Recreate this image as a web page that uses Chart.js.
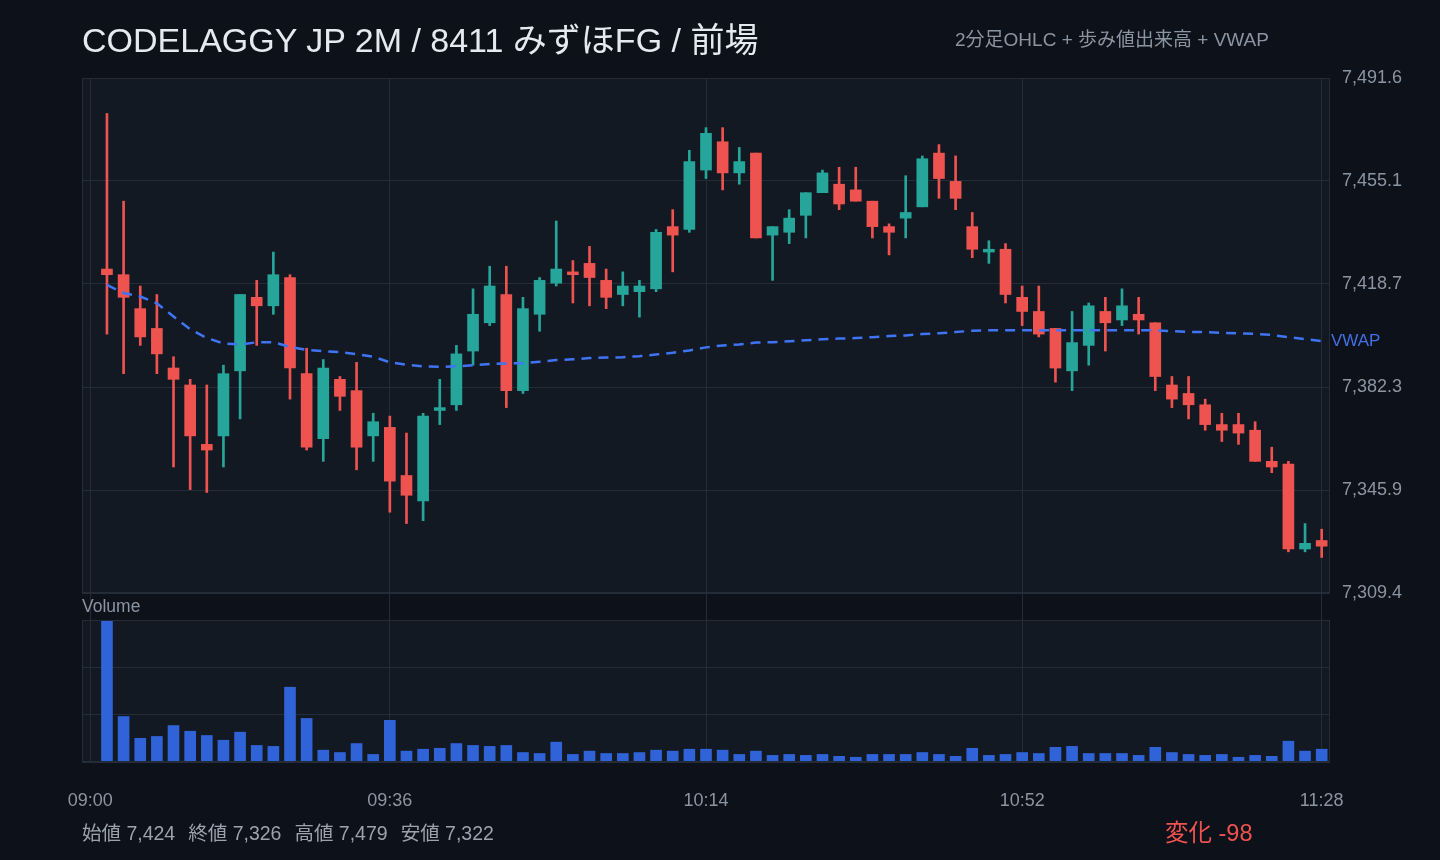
<!DOCTYPE html>
<html>
<head>
<meta charset="utf-8">
<script src="https://cdn.jsdelivr.net/npm/chart.js@4.4.1/dist/chart.umd.min.js"></script>
<style>
  html, body { margin:0; padding:0; width:1440px; height:860px; overflow:hidden; background:#0d1119;
    font-family:"Liberation Sans",Arial,"Noto Sans CJK JP",sans-serif; }
  .abs { position:absolute; white-space:nowrap; }
  #title { left:82px; top:17px; font-size:34px; line-height:46px; color:#e6eaf0; font-weight:400; }
  #sub { left:955px; top:27px; font-size:19px; line-height:26px; color:#8b95a2; }
  #volLabel { left:82px; top:595px; font-size:17.5px; line-height:22px; color:#8b95a2; z-index:2; }
  #footer { left:82px; top:819px; font-size:19.5px; line-height:28px; color:#9aa3ae; }
  #footer span { margin-right:13px; }
  #change { left:1165px; top:817px; font-size:23.5px; line-height:32px; color:#ef5350; }
  #priceCanvas { position:absolute; left:0; top:0; }
  #volCanvas { position:absolute; left:0; top:620px; }
</style>
</head>
<body>
<canvas id="priceCanvas" width="1440" height="620"></canvas>
<canvas id="volCanvas" width="1440" height="240"></canvas>
<div id="title" class="abs">CODELAGGY JP 2M / 8411 みずほFG / 前場</div>
<div id="sub" class="abs">2分足OHLC + 歩み値出来高 + VWAP</div>
<div id="volLabel" class="abs">Volume</div>
<div id="footer" class="abs"><span>始値 7,424</span><span>終値 7,326</span><span>高値 7,479</span><span>安値 7,322</span></div>
<div id="change" class="abs">変化 -98</div>
<script>
// ---------- data ----------
const barTimes = [
  '09:02','09:04','09:06','09:08','09:10','09:12','09:14','09:16','09:18','09:20',
  '09:22','09:24','09:26','09:28','09:30','09:32','09:34','09:36','09:38','09:40',
  '09:42','09:44','09:46','09:48','09:50','09:52','09:54','09:56','09:58','10:00',
  '10:02','10:04','10:06','10:08','10:10','10:12','10:14','10:16','10:18','10:20',
  '10:22','10:24','10:26','10:28','10:30','10:32','10:34','10:36','10:38','10:40',
  '10:42','10:44','10:46','10:48','10:50','10:52','10:54','10:56','10:58','11:00',
  '11:02','11:04','11:06','11:08','11:10','11:12','11:14','11:16','11:18','11:20',
  '11:22','11:24','11:26','11:28'
];
const opens = [
  7424,7422,7410,7403,7389,7383,7362,7365,7388,7414,
  7411,7421,7387,7364,7385,7381,7365,7368,7351,7342,
  7374,7376,7395,7405,7415,7381,7408,7419,7423,7426,
  7420,7415,7416,7417,7439,7438,7459,7469,7458,7465,
  7436,7437,7443,7451,7454,7452,7448,7439,7442,7446,
  7465,7455,7439,7430,7431,7414,7409,7403,7388,7397,
  7409,7406,7408,7405,7383,7380,7376,7369,7369,7367,
  7356,7355,7325,7328
];
const highs = [
  7479,7448,7418,7415,7393,7385,7383,7390,7415,7420,
  7430,7422,7396,7392,7386,7391,7373,7372,7366,7373,
  7385,7397,7417,7425,7425,7414,7421,7441,7427,7432,
  7424,7423,7420,7438,7445,7466,7474,7474,7467,7465,
  7439,7445,7451,7459,7460,7460,7448,7440,7457,7464,
  7468,7464,7444,7434,7433,7418,7418,7403,7409,7412,
  7414,7417,7414,7405,7386,7386,7378,7373,7373,7370,
  7361,7356,7334,7332
];
const lows = [
  7401,7387,7397,7387,7354,7346,7345,7354,7371,7397,
  7408,7378,7360,7356,7374,7353,7356,7338,7334,7335,
  7369,7374,7390,7404,7375,7380,7402,7418,7412,7411,
  7410,7411,7407,7416,7423,7437,7456,7452,7454,7435,
  7420,7433,7435,7451,7445,7448,7435,7429,7435,7446,
  7449,7445,7428,7426,7412,7404,7400,7384,7381,7390,
  7395,7404,7401,7381,7375,7371,7367,7363,7362,7356,
  7352,7324,7324,7322
];
const closes = [
  7422,7414,7400,7394,7385,7365,7360,7387,7415,7411,
  7422,7389,7361,7389,7379,7361,7370,7349,7344,7372,
  7375,7394,7408,7418,7381,7410,7420,7424,7422,7421,
  7414,7418,7418,7437,7436,7462,7472,7458,7462,7435,
  7439,7442,7451,7458,7447,7448,7439,7437,7444,7463,
  7456,7449,7431,7431,7415,7409,7401,7389,7398,7411,
  7405,7411,7406,7386,7378,7376,7369,7367,7366,7356,
  7354,7325,7327,7326
];
const vwap = [
  7418.4,7415.5,7414.3,7411.9,7407.2,7402.7,7399.6,7397.7,7397.3,7398.1,
  7398.1,7396.5,7395.4,7395.0,7394.6,7393.9,7393.0,7391.0,7390.2,7389.6,
  7389.4,7389.6,7390.0,7390.4,7390.6,7390.7,7391.2,7391.8,7392.1,7392.5,
  7392.7,7392.8,7393.2,7393.8,7394.4,7395.2,7396.3,7397.0,7397.3,7398.0,
  7398.1,7398.5,7398.8,7399.2,7399.4,7399.6,7399.9,7400.3,7400.5,7401.0,
  7401.3,7401.7,7402.2,7402.4,7402.4,7402.4,7402.4,7402.4,7402.4,7402.4,
  7402.4,7402.4,7402.4,7402.3,7402.0,7401.8,7401.7,7401.4,7401.3,7401.1,
  7400.7,7399.9,7399.2,7398.5
];
const volumes = [
  300,96,50,54,77,65,56,46,63,35,
  33,158,92,25,20,39,16,88,23,27,
  29,39,35,33,35,20,18,42,16,23,
  18,18,20,25,23,27,27,25,16,23,
  14,16,14,16,12,10,16,16,16,20,
  16,12,29,14,16,20,18,31,33,18,
  18,18,14,31,20,16,14,16,10,14,
  12,44,23,27
];
const timeTickLabels = ['09:00','09:36','10:14','10:52','11:28'];
const priceTickLabels = ['7,309.4','7,345.9','7,382.3','7,418.7','7,455.1','7,491.6'];
const priceMin = 7309.44, priceMax = 7491.56;
const volMax = 300;

// ---------- helpers ----------
const toMin = t => { const [h, m] = t.split(':').map(Number); return (h - 9) * 60 + m; };
const xs = barTimes.map(toMin);
const timeTickValues = timeTickLabels.map(toMin);
const priceTickValues = priceTickLabels.map((_, i) => priceMin + i * (priceMax - priceMin) / (priceTickLabels.length - 1));
const UP = '#26a69a', DOWN = '#ef5350';
const candleColors = opens.map((o, i) => closes[i] >= o ? UP : DOWN);
const GRID = '#242c37', PLOT_BG = '#121922', TICK = '#8b95a2';
const FONT = '"Liberation Sans",Arial,"Noto Sans CJK JP",sans-serif';

const panelPlugin = {
  id: 'panel',
  beforeDraw(chart) {
    const { ctx, chartArea: a } = chart;
    ctx.save();
    ctx.fillStyle = PLOT_BG;
    ctx.fillRect(a.left, a.top, a.right - a.left, a.bottom - a.top);
    ctx.restore();
  },
  afterDraw(chart) {
    const { ctx, chartArea: a } = chart;
    ctx.save();
    ctx.strokeStyle = GRID; ctx.lineWidth = 1;
    ctx.strokeRect(Math.round(a.left) + 0.5, Math.round(a.top) + 0.5, Math.round(a.right - a.left) - 1, Math.round(a.bottom - a.top) - 1);
    ctx.restore();
  }
};

const vwapLabelPlugin = {
  id: 'vwapLabel',
  afterDraw(chart) {
    const meta = chart.getDatasetMeta(0);
    const last = meta.data[meta.data.length - 1];
    const ctx = chart.ctx;
    ctx.save();
    ctx.font = '17px ' + FONT;
    ctx.fillStyle = '#4270e6';
    ctx.textAlign = 'left'; ctx.textBaseline = 'middle';
    ctx.fillText('VWAP', chart.chartArea.right + 1, last.y);
    ctx.restore();
  }
};

const xScaleBase = {
  type: 'linear', min: -1, max: 149, bounds: 'data', offset: false,
  afterBuildTicks: s => { s.ticks = timeTickValues.map(v => ({ value: v })); },
  border: { display: false }
};

// ---------- price chart ----------
new Chart(document.getElementById('priceCanvas'), {
  data: {
    datasets: [
      { type: 'line', label: 'VWAP', data: xs.map((x, i) => ({ x, y: vwap[i] })),
        borderColor: '#3f74f6', borderWidth: 2.5, borderDash: [10, 7], pointRadius: 0, tension: 0, order: 0 },
      { type: 'bar', label: 'body', data: xs.map((x, i) => ({ x, y: [opens[i], closes[i]] })),
        backgroundColor: candleColors, barThickness: 11, grouped: false, minBarLength: 2, order: 1 },
      { type: 'bar', label: 'wick', data: xs.map((x, i) => ({ x, y: [lows[i], highs[i]] })),
        backgroundColor: candleColors, barThickness: 2, grouped: false, order: 2 }
    ]
  },
  options: {
    responsive: false, animation: false,
    layout: { padding: { left: 82, top: 78, right: 0, bottom: 0 } },
    plugins: { legend: { display: false }, tooltip: { enabled: false } },
    scales: {
      x: Object.assign({}, xScaleBase, {
        grid: { color: GRID, drawTicks: true, tickLength: 27, tickColor: GRID, offset: false },
        ticks: { display: false },
        afterFit: s => { s.height = 27; }
      }),
      y: {
        position: 'right', min: priceMin, max: priceMax,
        afterBuildTicks: s => { s.ticks = priceTickValues.map(v => ({ value: v })); },
        grid: { color: GRID, drawTicks: false },
        border: { display: false },
        ticks: { color: TICK, font: { size: 18, family: FONT }, padding: 12,
                 callback: (v, i) => priceTickLabels[i] },
        afterFit: s => { s.width = 110; }
      }
    }
  },
  plugins: [panelPlugin, vwapLabelPlugin]
});

// ---------- volume chart ----------
new Chart(document.getElementById('volCanvas'), {
  type: 'bar',
  data: {
    datasets: [
      { label: 'Volume', data: xs.map((x, i) => ({ x, y: volumes[i] })),
        backgroundColor: '#3062d8', barThickness: 11, grouped: false }
    ]
  },
  options: {
    responsive: false, animation: false,
    layout: { padding: { left: 82, top: 0, right: 0, bottom: 0 } },
    plugins: { legend: { display: false }, tooltip: { enabled: false } },
    scales: {
      x: Object.assign({}, xScaleBase, {
        grid: { color: GRID, drawTicks: false, offset: false },
        ticks: { color: TICK, font: { size: 18, family: FONT }, padding: 28, maxRotation: 0, autoSkip: false,
                 callback: (v, i) => timeTickLabels[i] },
        afterFit: s => { s.height = 98; }
      }),
      y: {
        position: 'right', min: 0, max: volMax,
        afterBuildTicks: s => { s.ticks = [0, 1, 2, 3].map(k => ({ value: k * volMax / 3 })); },
        grid: { color: GRID, drawTicks: false },
        border: { display: false },
        ticks: { display: false },
        afterFit: s => { s.width = 110; }
      }
    }
  },
  plugins: [panelPlugin]
});
</script>
</body>
</html>
